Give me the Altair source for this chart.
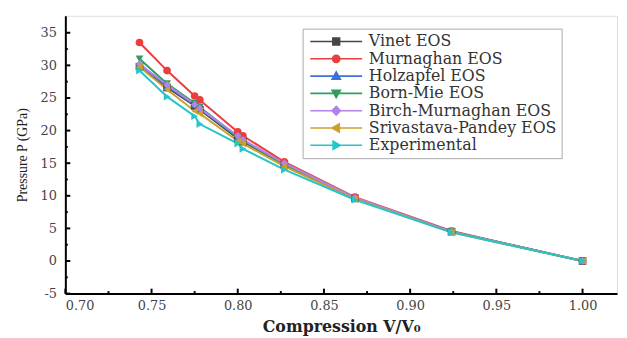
import altair as alt
import pandas as pd

# ---- data ----
compression = [0.743, 0.759, 0.775, 0.778, 0.800, 0.803, 0.827, 0.868, 0.924, 1.000]

series_names = ["Vinet EOS", "Murnaghan EOS", "Holzapfel EOS", "Born-Mie EOS",
                "Birch-Murnaghan EOS", "Srivastava-Pandey EOS", "Experimental"]

vinet = [29.8, 26.6, 23.8, 23.2, 18.8, 18.3, 14.8, 9.6, 4.5, 0.0]
murnaghan = [33.5, 29.2, 25.3, 24.7, 19.8, 19.2, 15.2, 9.8, 4.6, 0.0]
holzapfel = [30.2, 26.8, 24.0, 23.4, 19.0, 18.5, 14.9, 9.6, 4.5, 0.0]
born_mie = [31.0, 27.2, 24.2, 23.6, 19.0, 18.5, 14.8, 9.6, 4.5, 0.0]
birch_murnaghan = [30.2, 27.0, 24.0, 23.4, 19.2, 18.6, 15.0, 9.7, 4.5, 0.0]
srivastava_pandey = [29.8, 26.3, 23.0, 22.6, 18.4, 18.0, 14.5, 9.5, 4.4, 0.0]
experimental = [29.2, 25.2, 22.2, 21.0, 18.0, 17.2, 14.0, 9.4, 4.4, 0.0]

x_major = [0.70, 0.75, 0.80, 0.85, 0.90, 0.95, 1.00]
x_minor = [0.725, 0.775, 0.825, 0.875, 0.925, 0.975]
y_major = [-5, 0, 5, 10, 15, 20, 25, 30, 35]
y_minor = [-2.5, 2.5, 7.5, 12.5, 17.5, 22.5, 27.5, 32.5]

colors = ["#454545", "#ec3d3d", "#3d72d8", "#2f9e60", "#b283ea", "#c9a12c", "#25c5c8"]
shapes = ["square", "circle", "triangle-up", "triangle-down", "diamond",
          "triangle-left", "triangle-right"]

# legend symbols: a short line with the marker in its middle
LINE = "M-1,0H9"
legend_paths = [
    LINE + "M3.35,-0.65H4.65V0.65H3.35Z",
    LINE + "M3.3,0A0.7,0.7 0 1,0 4.7,0A0.7,0.7 0 1,0 3.3,0Z",
    LINE + "M4,-0.8L4.8,0.6H3.2Z",
    LINE + "M4,0.8L4.8,-0.6H3.2Z",
    LINE + "M4,-0.85L4.8,0L4,0.85L3.2,0Z",
    LINE + "M3.2,0L4.6,-0.8V0.8Z",
    LINE + "M4.8,0L3.4,-0.8V0.8Z",
]

values = [vinet, murnaghan, holzapfel, born_mie, birch_murnaghan, srivastava_pandey, experimental]
rows = []
for name, vals in zip(series_names, values):
    for xv, yv in zip(compression, vals):
        rows.append({"series": name, "V": xv, "P": yv})
df = pd.DataFrame(rows)

W, H = 558, 281
X_DOM = [0.70, 1.02]
Y_DOM = [-5, 37.6]

xscale = alt.Scale(domain=X_DOM, nice=False, zero=False)
yscale = alt.Scale(domain=Y_DOM, nice=False, zero=False)
cscale = alt.Scale(domain=series_names, range=colors)

X_TITLE = "Compression V/V₀"
Y_TITLE = "Pressure P (GPa)"
X_AX = alt.Axis(values=x_major, format=".2f", grid=False, ticks=False,
                labelOverlap=False,
                domainColor="#000", domainWidth=2, labelPadding=6,
                labelFont="DejaVu Serif", labelFontSize=13, labelColor="#444",
                titleFont="DejaVu Serif", titleFontSize=16, titleFontWeight="bold",
                titleColor="#222", titlePadding=6)
Y_AX = alt.Axis(values=y_major, grid=False, ticks=False, labelOverlap=False,
                labelFlush=False, format="d",
                labelExpr="replace(datum.label, '\u2212', '-')",
                domainColor="#000", domainWidth=2, labelPadding=9,
                labelFont="DejaVu Serif", labelFontSize=13, labelColor="#444",
                titleFont="Liberation Serif", titleFontSize=14, titleFontWeight="normal",
                titleColor="#222", titlePadding=11)


def xe(field):
    return alt.X(field, scale=xscale, title=X_TITLE, axis=X_AX)


def ye(field):
    return alt.Y(field, scale=yscale, title=Y_TITLE, axis=Y_AX)


base = alt.Chart(df)

lines = base.mark_line(strokeWidth=2).encode(
    x=xe("V:Q"), y=ye("P:Q"),
    color=alt.Color("series:N", scale=cscale, legend=None),
    detail="series:N",
)

points = base.mark_point(filled=True, size=60, opacity=1).encode(
    x=xe("V:Q"), y=ye("P:Q"),
    color=alt.Color("series:N", scale=cscale, legend=None),
    shape=alt.Shape("series:N", scale=alt.Scale(domain=series_names, range=shapes), legend=None),
)

leg = alt.Legend(title=None, orient="none", legendX=240, legendY=13,
                 labelFont="DejaVu Serif", labelFontSize=16, labelColor="#333",
                 symbolSize=110, symbolStrokeWidth=1.6, symbolOpacity=1,
                 labelOffset=46, rowPadding=1.5, padding=5,
                 strokeColor="#aaaaaa", fillColor="white", labelLimit=400)

legend_layer = base.mark_point(opacity=0, filled=True).encode(
    x=xe("V:Q"), y=ye("P:Q"),
    fill=alt.Fill("series:N", scale=alt.Scale(domain=series_names, range=colors), legend=leg),
    stroke=alt.Stroke("series:N", scale=alt.Scale(domain=series_names, range=colors), legend=leg),
    shape=alt.Shape("series:N", scale=alt.Scale(domain=series_names, range=legend_paths), legend=leg),
)

xt_major = alt.Chart(pd.DataFrame({"t": x_major})).mark_rule(color="#000", strokeWidth=2).encode(
    x=xe("t:Q"), y=alt.value(H), y2=alt.value(H - 5))
xt_minor = alt.Chart(pd.DataFrame({"t": x_minor})).mark_rule(color="#000", strokeWidth=2).encode(
    x=xe("t:Q"), y=alt.value(H), y2=alt.value(H - 2.5))
yt_major = alt.Chart(pd.DataFrame({"t": y_major})).mark_rule(color="#000", strokeWidth=2).encode(
    y=ye("t:Q"), x=alt.value(0), x2=alt.value(5))
yt_minor = alt.Chart(pd.DataFrame({"t": y_minor})).mark_rule(color="#000", strokeWidth=2).encode(
    y=ye("t:Q"), x=alt.value(0), x2=alt.value(2.5))

chart = alt.layer(
    lines, points, legend_layer, xt_major, xt_minor, yt_major, yt_minor
).resolve_scale(
    shape="independent", fill="independent", stroke="independent"
).properties(
    width=W, height=H,
    autosize=alt.AutoSizeParams(type="none"),
    padding={"left": 58, "top": 6, "right": 2, "bottom": 43},
).configure_view(
    stroke="#000", strokeWidth=2
).configure_axis(
    labelOverlap=False
).configure(background="white")

chart.save("out.html", embed_options={"renderer": "svg", "actions": False})
